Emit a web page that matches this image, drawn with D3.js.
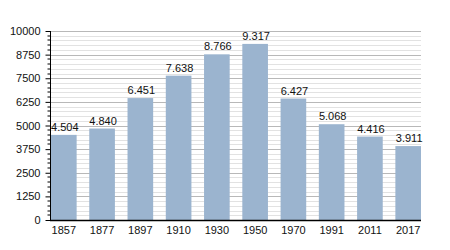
<!DOCTYPE html>
<html>
<head>
<meta charset="utf-8">
<script src="https://cdn.jsdelivr.net/npm/d3@7"></script>
<style>
  body { margin: 0; background: #fff; }
  text { font-family: "Liberation Sans", Arial, sans-serif; }
</style>
</head>
<body>
<div id="chart"></div>
<script>
// population by census year
const years = ["1857", "1877", "1897", "1910", "1930", "1950", "1970", "1991", "2011", "2017"]
const population = [4504, 4840, 6451, 7638, 8766, 9317, 6427, 5068, 4416, 3911]
const yTicks = [0, 1250, 2500, 3750, 5000, 6250, 7500, 8750, 10000]

const width = 450, height = 250
const plotLeft = 50, plotRight = 421, plotTop = 31, plotBottom = 220

const svg = d3.select("#chart").append("svg")
    .attr("width", width)
    .attr("height", height)

let x = d3.scaleBand().domain(years).range([plotLeft + 1, plotRight])
    .paddingInner(0.33).paddingOuter(0).align(0)
let y = d3.scaleLinear().domain([0, 10000]).range([plotBottom, plotTop])

// minor grid every 250, major every 1250
let minor = d3.range(250, 10001, 250).filter(v => v % 1250 != 0)
svg.append("g").selectAll("line").data(minor).enter().append("line")
    .attr("x1", plotLeft).attr("x2", plotRight)
    .attr("y1", d => Math.round(y(d)) + 0.5).attr("y2", d => Math.round(y(d)) + 0.5)
    .attr("stroke", "#e2e2e2")
svg.append("g").selectAll("line").data(yTicks.slice(1)).enter().append("line")
    .attr("x1", plotLeft).attr("x2", plotRight)
    .attr("y1", d => Math.round(y(d)) + 0.5).attr("y2", d => Math.round(y(d)) + 0.5)
    .attr("stroke", "#b8b8b8")

// bars
svg.append("g").selectAll("rect").data(population).enter().append("rect")
    .attr("x", (d, i) => x(years[i]))
    .attr("y", d => y(d))
    .attr("width", x.bandwidth())
    .attr("height", d => plotBottom - y(d))
    .attr("fill", "#9bb4cf")

// value labels (dot as thousands separator)
let fmt = d => d3.format(",")(d).replace(",", ".")
svg.append("g").selectAll("text").data(population).enter().append("text")
    .attr("x", (d, i) => x(years[i]) + x.bandwidth() / 2 + 1)
    .attr("y", d => y(d) - 4)
    .attr("text-anchor", "middle")
    .attr("font-size", 11)
    .attr("fill", "#111")
    .text(fmt)

// y axis with minor ticks
let yAxis = svg.append("g").attr("transform", `translate(${plotLeft + 0.5},0)`)
yAxis.call(d3.axisLeft(y).tickValues(yTicks).tickSize(5).tickPadding(5).tickFormat(d3.format("d")))
yAxis.selectAll("line.minor").data(minor).enter().append("line")
    .attr("class", "minor")
    .attr("x1", -3).attr("x2", 0)
    .attr("y1", d => Math.round(y(d))).attr("y2", d => Math.round(y(d)))
    .attr("stroke", "#000")
yAxis.select(".domain").attr("d", `M0,${plotTop}V${plotBottom}`)
yAxis.selectAll("text").attr("font-size", 11).attr("fill", "#111").style("font-family", "Liberation Sans, Arial, sans-serif")

// x axis
let xAxis = svg.append("g").attr("transform", `translate(0,${plotBottom + 0.5})`)
xAxis.call(d3.axisBottom(x).tickSize(0).tickPadding(6))
xAxis.select(".domain").attr("d", `M${plotLeft},0H${plotRight}`).attr("stroke-width", 1.5)
xAxis.selectAll("text").attr("font-size", 11).attr("fill", "#111").style("font-family", "Liberation Sans, Arial, sans-serif")
</script>
</body>
</html>
